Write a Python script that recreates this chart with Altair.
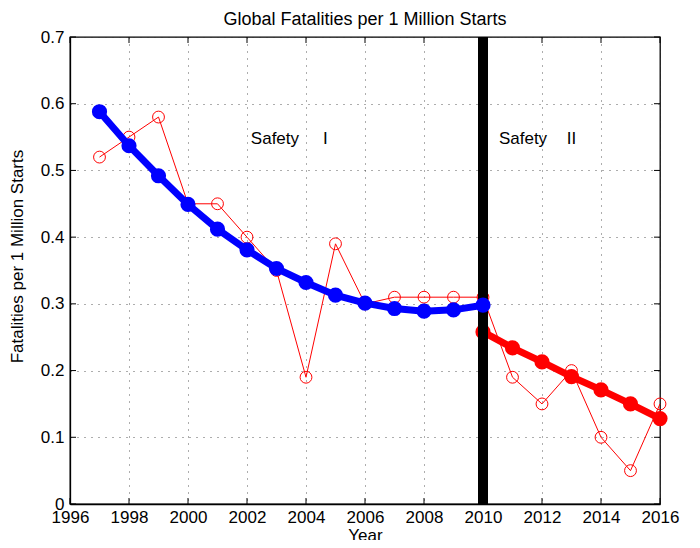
import altair as alt
import pandas as pd

years = list(range(1997, 2017))
annual = [0.52, 0.55, 0.58, 0.45, 0.45, 0.40, 0.35, 0.19, 0.39, 0.30,
          0.31, 0.31, 0.31, 0.31, 0.19, 0.15, 0.20, 0.10, 0.05, 0.15]

years_s1 = list(range(1997, 2011))
trend_s1 = [0.588, 0.537, 0.492, 0.449, 0.412, 0.381, 0.353, 0.332, 0.313,
            0.301, 0.293, 0.289, 0.291, 0.298]

years_s2 = list(range(2010, 2017))
trend_s2 = [0.258, 0.234, 0.213, 0.191, 0.171, 0.150, 0.128]

divider_year = [2010]
label_x = [2002.13, 2004.58, 2010.54, 2012.84]
label_y = [0.547, 0.547, 0.547, 0.547]
label_text = ["Safety", "I", "Safety", "II"]

x_ticks = list(range(1996, 2017, 2))
y_ticks = [0, 0.1, 0.2, 0.3, 0.4, 0.5, 0.6, 0.7]

FONT = "Liberation Sans"
W, H = 590, 467
TL = 6

df_a = pd.DataFrame({"Year": years, "Value": annual})
df_1 = pd.DataFrame({"Year": years_s1, "Value": trend_s1})
df_2 = pd.DataFrame({"Year": years_s2, "Value": trend_s2})
df_div = pd.DataFrame({"Year": divider_year, "lo": [0.0], "hi": [0.7]})
df_t = pd.DataFrame({"Year": label_x, "Value": label_y, "t": label_text})
df_xt = pd.DataFrame({"Year": x_ticks})
df_yt = pd.DataFrame({"Value": y_ticks})

xs = alt.Scale(domain=[1996, 2016], nice=False, zero=False)
ys = alt.Scale(domain=[0, 0.7], nice=False)

x_axis = alt.Axis(values=x_ticks, format="d", title="Year", grid=True,
                  labelFontSize=17, titleFontSize=17, labelPadding=5,
                  titlePadding=2, labelFlush=False, labelOverlap=False)
y_axis = alt.Axis(values=y_ticks, title="Fatalities per 1 Million Starts", grid=True,
                  labelExpr="datum.value == 0 ? '0' : format(datum.value, '.1f')",
                  labelFontSize=17, titleFontSize=17, labelPadding=6,
                  titlePadding=14, titleY=219, labelFlush=False, labelOverlap=False)

X = alt.X("Year:Q", scale=xs, axis=x_axis)
Y = alt.Y("Value:Q", scale=ys, axis=y_axis)

divider = alt.Chart(df_div).mark_rule(color="black", strokeWidth=10).encode(
    x=X,
    y=alt.Y("lo:Q", scale=ys, axis=y_axis),
    y2="hi:Q",
)

blue = alt.Chart(df_1).mark_line(
    color="#0000ff", strokeWidth=7,
    point=alt.OverlayMarkDef(filled=True, size=230, color="#0000ff"),
).encode(x=X, y=Y)

red_thick = alt.Chart(df_2).mark_line(
    color="#ff0000", strokeWidth=7,
    point=alt.OverlayMarkDef(filled=True, size=230, color="#ff0000"),
).encode(x=X, y=Y)

red_thin = alt.Chart(df_a).mark_line(
    color="#ff0000", strokeWidth=1,
    point=alt.OverlayMarkDef(filled=False, size=140, color="#ff0000", strokeWidth=1),
).encode(x=X, y=Y)

texts = alt.Chart(df_t).mark_text(
    align="left", baseline="middle", fontSize=17, font=FONT, color="black"
).encode(x=X, y=Y, text="t:N")

xt_bottom = alt.Chart(df_xt).mark_rule(color="black", strokeWidth=1).encode(
    x=X, y=alt.value(H), y2=alt.value(H - TL))
xt_top = alt.Chart(df_xt).mark_rule(color="black", strokeWidth=1).encode(
    x=X, y=alt.value(0), y2=alt.value(TL))
yt_left = alt.Chart(df_yt).mark_rule(color="black", strokeWidth=1).encode(
    y=Y, x=alt.value(0), x2=alt.value(TL))
yt_right = alt.Chart(df_yt).mark_rule(color="black", strokeWidth=1).encode(
    y=Y, x=alt.value(W), x2=alt.value(W - TL))

chart = alt.layer(red_thin, red_thick, divider, blue, texts,
                  xt_bottom, xt_top, yt_left, yt_right).properties(
    width=W, height=H,
    title=alt.TitleParams("Global Fatalities per 1 Million Starts", fontSize=18,
                          fontWeight="normal", font=FONT, color="black", offset=3, dy=4),
    autosize=alt.AutoSizeParams(type="none"),
    padding={"left": 62, "top": 29, "right": 28, "bottom": 36},
).configure_axis(
    domainColor="black", domainWidth=1.3, ticks=False, tickSize=0,
    gridColor="#333333", gridDash=[1, 6], gridWidth=1, gridOpacity=0.8,
    labelColor="black", titleColor="black", labelFont=FONT, titleFont=FONT,
    titleFontWeight="normal",
).configure_view(
    stroke="black", strokeWidth=1.3,
)

chart.save("out.html", embed_options={"renderer": "svg", "actions": False})
